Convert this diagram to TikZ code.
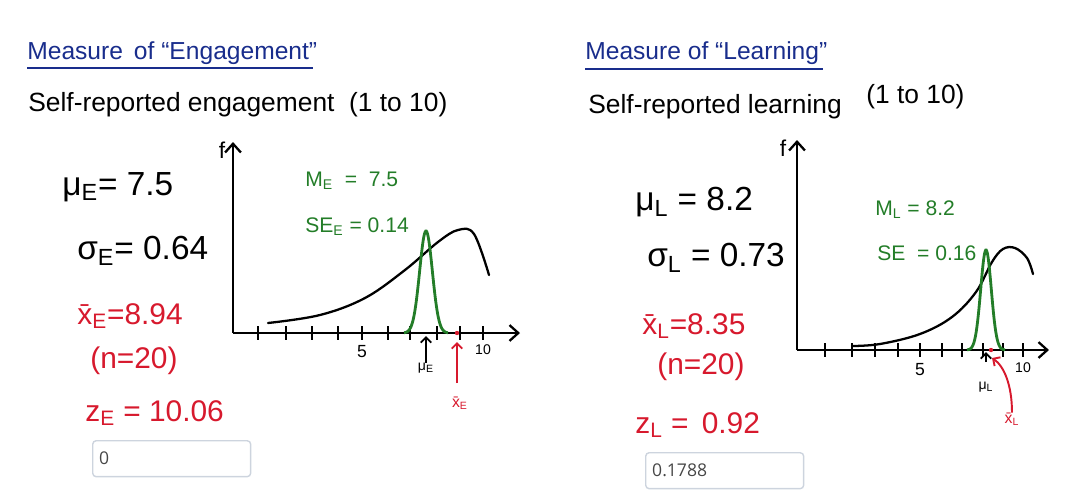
\documentclass[tikz,border=0pt]{standalone}
\usepackage{fontspec}
\setmainfont{Liberation Sans}
\newfontfamily\boxfont{Open Sans}
\usetikzlibrary{arrows.meta, positioning}
\definecolor{inkblue}{RGB}{25,45,140}
\definecolor{inkred}{RGB}{215,25,45}
\definecolor{inkgreen}{RGB}{35,125,40}
\definecolor{boxline}{RGB}{205,212,222}
\definecolor{boxtext}{RGB}{70,70,70}
\tikzset{
  heading/.style={text=inkblue,font=\fontsize{14}{16}\selectfont,anchor=west,inner sep=0pt},
  desc/.style={font=\fontsize{15}{17}\selectfont,anchor=west,inner sep=0pt},
  bigstat/.style={font=\fontsize{19}{22}\selectfont,anchor=west,inner sep=0pt},
  redstat/.style={text=inkred,font=\fontsize{17}{20}\selectfont,anchor=west,inner sep=0pt},
  greenlbl/.style={text=inkgreen,font=\fontsize{12}{14}\selectfont,anchor=west,inner sep=0pt},
  ticklbl/.style={font=\fontsize{10}{12}\selectfont,inner sep=0pt},
  smalllbl/.style={font=\fontsize{8}{10}\selectfont,inner sep=0pt},
  axis/.style={line width=1.3pt,-{Straight Barb[length=5pt,width=9pt]}},
  tick/.style={line width=1pt},
  curve/.style={line width=1.3pt,line cap=round},
  bell/.style={line width=1.6pt,inkgreen},
  marker/.style={line width=1.1pt,-{Straight Barb[length=3pt,width=6pt]}},
  ansbox/.style={draw=boxline,line width=0.8pt,rounded corners=2pt,
                 minimum width=3.16cm,minimum height=0.72cm,anchor=north west,
                 text width=2.9cm,align=left,text=boxtext,font=\boxfont\fontsize{10}{12}\selectfont},
}

\begin{document}
\begin{tikzpicture}[x=0.02cm,y=-0.02cm]
  \useasboundingbox (0,0) rectangle (1080,501);

  % ---- engagement panel
  \node[heading](titleE) at (27,53){Measure \,of “Engagement”};
  \draw[inkblue,line width=1.2pt] (titleE.west|-0,68) -- (313,68);
  \node[desc](descE) at (28,105){Self-reported engagement \ (1 to 10)};

  \node[bigstat](muE) at (62,187){μ\textsubscript{E}= 7.5};
  \node[bigstat](sigE) at (77,251){σ\textsubscript{E}= 0.64};
  \node[redstat](xbarE) at (77,316){\={x}\textsubscript{E}=8.94};
  \node[redstat](nE) at (90,361){(n=20)};
  \node[redstat](zE) at (85,413){z\textsubscript{E} = 10.06};
  \node[ansbox](ansE) at (92,440){0};

  \coordinate (oE) at (233,333);
  \draw[axis] (oE) -- (233,142);
  \draw[axis] (oE) -- (520,333);
  \node[font=\fontsize{13}{14}\selectfont](fE) at (222,150){f};
  \foreach \t in {258,286,312,338,362,388,410,437,460,483}
    \draw[tick] (\t,326) -- (\t,340);
  \node[ticklbl](fiveE) at (362,352){5};
  \node[ticklbl,font=\fontsize{8}{10}\selectfont](tenE) at (483,350){10};

  \draw[curve] plot[smooth,tension=0.6] coordinates
    {(268,323) (320,315) (365,298) (405,270) (438,242) (458,230) (474,234) (489,275)};
  \draw[bell] plot[domain=-22:22,samples=70] ({426+\x},{333-102*exp(-(\x/9)^2)});
  \fill[inkred] (457,333) circle (2.2);

  \node[greenlbl](MlblE) at (305,181){M\textsubscript{E} \ = \ 7.5};
  \node[greenlbl](SElblE) at (305,227){SE\textsubscript{E} = 0.14};

  \node[smalllbl](muEax) at (426,368){μ\textsubscript{E}};
  \coordinate (muEtip) at (426,336);
  \draw[marker] (muEax.north) -- (muEtip);
  \node[smalllbl,text=inkred,font=\fontsize{9}{10}\selectfont](xbarEax) at (460,403){\={x}\textsubscript{E}};
  \coordinate (xbarEtip) at (457,342);
  \draw[marker,inkred] (457,383) -- (xbarEtip);

  % ---- learning panel
  \node[heading](titleL) at (585,53){Measure of “Learning”};
  \draw[inkblue,line width=1.2pt] (585,69) -- (823,69);
  \node[desc](descL) at (588,107){Self-reported learning};
  \node[desc](rangeL) at (866,97){(1 to 10)};

  \node[bigstat](muL) at (635,202){μ\textsubscript{L} = 8.2};
  \node[bigstat](sigL) at (647,258){σ\textsubscript{L} = 0.73};
  \node[redstat](xbarL) at (642,326){\={x}\textsubscript{L}=8.35};
  \node[redstat](nL) at (657,367){(n=20)};
  \node[redstat](zL) at (635,425){z\textsubscript{L} = \,0.92};
  \node[ansbox](ansL) at (645,452){0.1788};

  \coordinate (oL) at (797,350);
  \draw[axis] (oL) -- (797,140);
  \draw[axis] (oL) -- (1049,350);
  \node[font=\fontsize{13}{14}\selectfont](fL) at (783,148){f};
  \foreach \t in {825,852,875,898,920,942,962,983,1003,1023}
    \draw[tick] (\t,343) -- (\t,357);
  \node[ticklbl](fiveL) at (920,370){5};
  \node[ticklbl,font=\fontsize{8}{10}\selectfont](tenL) at (1023,368){10};

  \draw[curve] plot[smooth,tension=0.6] coordinates
    {(852,346) (880,344) (920,334) (952,317) (976,292) (992,262) (1003,249) (1015,248) (1027,258) (1033,274)};
  \draw[bell] plot[domain=-19:19,samples=70] ({986+\x},{350-100*exp(-(\x/7.5)^2)});
  \fill[inkred] (991,350) circle (2.2);

  \node[greenlbl](MlblL) at (875,210){M\textsubscript{L} = 8.2};
  \node[greenlbl](SElblL) at (877,253){SE \ = 0.16};

  \node[smalllbl](muLax) at (986,387){μ\textsubscript{L}};
  \coordinate (muLtip) at (986,352);
  \draw[marker] (986,362) -- (muLtip);
  \node[smalllbl,text=inkred,font=\fontsize{9}{10}\selectfont](xbarLax) at (1012,419){\={x}\textsubscript{L}};
  \coordinate (xbarLtip) at (992,358);
  \draw[marker,inkred] (xbarLax.north) .. controls (1012,385) and (1004,366) .. (xbarLtip);
\end{tikzpicture}
\end{document}
